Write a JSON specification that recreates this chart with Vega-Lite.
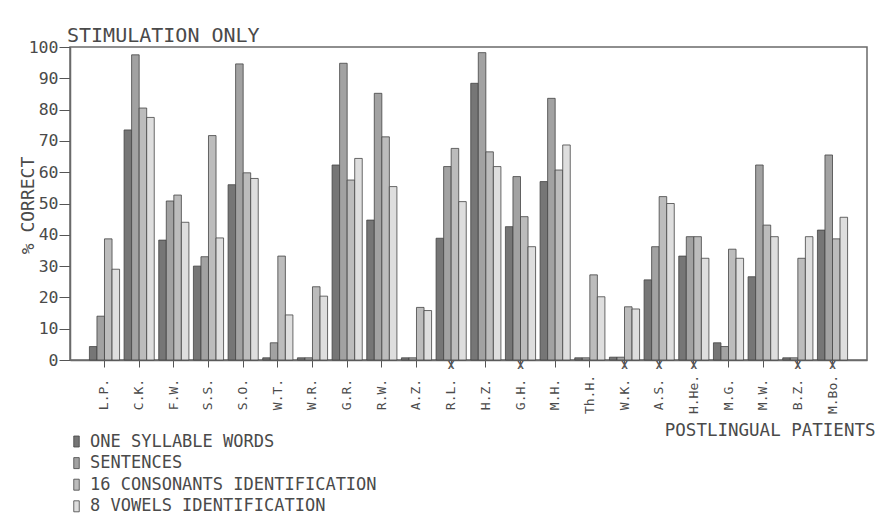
{
  "$schema": "https://vega.github.io/schema/vega-lite/v6.json",
  "width": 797,
  "height": 313,
  "autosize": {"type": "none"},
  "padding": {"left": 70, "top": 47, "right": 21, "bottom": 154},
  "background": "#ffffff",
  "title": {"text": "STIMULATION ONLY", "anchor": "start", "frame": "group", "dx": -3, "offset": -7, "font": "DejaVu Sans Mono", "fontSize": 20, "fontWeight": "normal", "color": "#4a4a4a"},
  "config": {
    "view": {"stroke": "#6a6a6a", "strokeWidth": 1.5},
    "font": "DejaVu Sans Mono"
  },
  "datasets": {
    "scores": [
      {"patient": "L.P.", "test": "ONE SYLLABLE WORDS", "value": 4.3},
      {"patient": "L.P.", "test": "SENTENCES", "value": 14},
      {"patient": "L.P.", "test": "16 CONSONANTS IDENTIFICATION", "value": 38.7},
      {"patient": "L.P.", "test": "8 VOWELS IDENTIFICATION", "value": 29},
      {"patient": "C.K.", "test": "ONE SYLLABLE WORDS", "value": 73.5},
      {"patient": "C.K.", "test": "SENTENCES", "value": 97.5},
      {"patient": "C.K.", "test": "16 CONSONANTS IDENTIFICATION", "value": 80.5},
      {"patient": "C.K.", "test": "8 VOWELS IDENTIFICATION", "value": 77.5},
      {"patient": "F.W.", "test": "ONE SYLLABLE WORDS", "value": 38.3},
      {"patient": "F.W.", "test": "SENTENCES", "value": 50.8},
      {"patient": "F.W.", "test": "16 CONSONANTS IDENTIFICATION", "value": 52.7},
      {"patient": "F.W.", "test": "8 VOWELS IDENTIFICATION", "value": 44},
      {"patient": "S.S.", "test": "ONE SYLLABLE WORDS", "value": 30},
      {"patient": "S.S.", "test": "SENTENCES", "value": 33},
      {"patient": "S.S.", "test": "16 CONSONANTS IDENTIFICATION", "value": 71.7},
      {"patient": "S.S.", "test": "8 VOWELS IDENTIFICATION", "value": 39},
      {"patient": "S.O.", "test": "ONE SYLLABLE WORDS", "value": 56},
      {"patient": "S.O.", "test": "SENTENCES", "value": 94.6},
      {"patient": "S.O.", "test": "16 CONSONANTS IDENTIFICATION", "value": 59.8},
      {"patient": "S.O.", "test": "8 VOWELS IDENTIFICATION", "value": 58},
      {"patient": "W.T.", "test": "ONE SYLLABLE WORDS", "value": 0.7},
      {"patient": "W.T.", "test": "SENTENCES", "value": 5.5},
      {"patient": "W.T.", "test": "16 CONSONANTS IDENTIFICATION", "value": 33.2},
      {"patient": "W.T.", "test": "8 VOWELS IDENTIFICATION", "value": 14.4},
      {"patient": "W.R.", "test": "ONE SYLLABLE WORDS", "value": 0.7},
      {"patient": "W.R.", "test": "SENTENCES", "value": 0.7},
      {"patient": "W.R.", "test": "16 CONSONANTS IDENTIFICATION", "value": 23.4},
      {"patient": "W.R.", "test": "8 VOWELS IDENTIFICATION", "value": 20.4},
      {"patient": "G.R.", "test": "ONE SYLLABLE WORDS", "value": 62.3},
      {"patient": "G.R.", "test": "SENTENCES", "value": 94.8},
      {"patient": "G.R.", "test": "16 CONSONANTS IDENTIFICATION", "value": 57.5},
      {"patient": "G.R.", "test": "8 VOWELS IDENTIFICATION", "value": 64.4},
      {"patient": "R.W.", "test": "ONE SYLLABLE WORDS", "value": 44.7},
      {"patient": "R.W.", "test": "SENTENCES", "value": 85.2},
      {"patient": "R.W.", "test": "16 CONSONANTS IDENTIFICATION", "value": 71.3},
      {"patient": "R.W.", "test": "8 VOWELS IDENTIFICATION", "value": 55.4},
      {"patient": "A.Z.", "test": "ONE SYLLABLE WORDS", "value": 0.7},
      {"patient": "A.Z.", "test": "SENTENCES", "value": 0.7},
      {"patient": "A.Z.", "test": "16 CONSONANTS IDENTIFICATION", "value": 16.8},
      {"patient": "A.Z.", "test": "8 VOWELS IDENTIFICATION", "value": 15.8},
      {"patient": "R.L.", "test": "ONE SYLLABLE WORDS", "value": 38.9},
      {"patient": "R.L.", "test": "SENTENCES", "value": 61.8},
      {"patient": "R.L.", "test": "16 CONSONANTS IDENTIFICATION", "value": 67.6},
      {"patient": "R.L.", "test": "8 VOWELS IDENTIFICATION", "value": 50.6},
      {"patient": "H.Z.", "test": "ONE SYLLABLE WORDS", "value": 88.4},
      {"patient": "H.Z.", "test": "SENTENCES", "value": 98.2},
      {"patient": "H.Z.", "test": "16 CONSONANTS IDENTIFICATION", "value": 66.5},
      {"patient": "H.Z.", "test": "8 VOWELS IDENTIFICATION", "value": 61.8},
      {"patient": "G.H.", "test": "ONE SYLLABLE WORDS", "value": 42.6},
      {"patient": "G.H.", "test": "SENTENCES", "value": 58.6},
      {"patient": "G.H.", "test": "16 CONSONANTS IDENTIFICATION", "value": 45.8},
      {"patient": "G.H.", "test": "8 VOWELS IDENTIFICATION", "value": 36.2},
      {"patient": "M.H.", "test": "ONE SYLLABLE WORDS", "value": 57},
      {"patient": "M.H.", "test": "SENTENCES", "value": 83.6},
      {"patient": "M.H.", "test": "16 CONSONANTS IDENTIFICATION", "value": 60.7},
      {"patient": "M.H.", "test": "8 VOWELS IDENTIFICATION", "value": 68.7},
      {"patient": "Th.H.", "test": "ONE SYLLABLE WORDS", "value": 0.7},
      {"patient": "Th.H.", "test": "SENTENCES", "value": 0.7},
      {"patient": "Th.H.", "test": "16 CONSONANTS IDENTIFICATION", "value": 27.2},
      {"patient": "Th.H.", "test": "8 VOWELS IDENTIFICATION", "value": 20.2},
      {"patient": "W.K.", "test": "ONE SYLLABLE WORDS", "value": 0.9},
      {"patient": "W.K.", "test": "SENTENCES", "value": 0.9},
      {"patient": "W.K.", "test": "16 CONSONANTS IDENTIFICATION", "value": 17},
      {"patient": "W.K.", "test": "8 VOWELS IDENTIFICATION", "value": 16.3},
      {"patient": "A.S.", "test": "ONE SYLLABLE WORDS", "value": 25.6},
      {"patient": "A.S.", "test": "SENTENCES", "value": 36.2},
      {"patient": "A.S.", "test": "16 CONSONANTS IDENTIFICATION", "value": 52.2},
      {"patient": "A.S.", "test": "8 VOWELS IDENTIFICATION", "value": 50},
      {"patient": "H.He.", "test": "ONE SYLLABLE WORDS", "value": 33.2},
      {"patient": "H.He.", "test": "SENTENCES", "value": 39.4},
      {"patient": "H.He.", "test": "16 CONSONANTS IDENTIFICATION", "value": 39.4},
      {"patient": "H.He.", "test": "8 VOWELS IDENTIFICATION", "value": 32.5},
      {"patient": "M.G.", "test": "ONE SYLLABLE WORDS", "value": 5.5},
      {"patient": "M.G.", "test": "SENTENCES", "value": 4.3},
      {"patient": "M.G.", "test": "16 CONSONANTS IDENTIFICATION", "value": 35.4},
      {"patient": "M.G.", "test": "8 VOWELS IDENTIFICATION", "value": 32.5},
      {"patient": "M.W.", "test": "ONE SYLLABLE WORDS", "value": 26.6},
      {"patient": "M.W.", "test": "SENTENCES", "value": 62.3},
      {"patient": "M.W.", "test": "16 CONSONANTS IDENTIFICATION", "value": 43.1},
      {"patient": "M.W.", "test": "8 VOWELS IDENTIFICATION", "value": 39.4},
      {"patient": "B.Z.", "test": "ONE SYLLABLE WORDS", "value": 0.7},
      {"patient": "B.Z.", "test": "SENTENCES", "value": 0.7},
      {"patient": "B.Z.", "test": "16 CONSONANTS IDENTIFICATION", "value": 32.5},
      {"patient": "B.Z.", "test": "8 VOWELS IDENTIFICATION", "value": 39.4},
      {"patient": "M.Bo.", "test": "ONE SYLLABLE WORDS", "value": 41.5},
      {"patient": "M.Bo.", "test": "SENTENCES", "value": 65.5},
      {"patient": "M.Bo.", "test": "16 CONSONANTS IDENTIFICATION", "value": 38.7},
      {"patient": "M.Bo.", "test": "8 VOWELS IDENTIFICATION", "value": 45.6}
    ],
    "marked": [
      {"patient": "R.L.", "sign": "X", "value": -1.9},
      {"patient": "G.H.", "sign": "X", "value": -1.9},
      {"patient": "W.K.", "sign": "X", "value": -1.9},
      {"patient": "A.S.", "sign": "X", "value": -1.9},
      {"patient": "H.He.", "sign": "X", "value": -1.9},
      {"patient": "B.Z.", "sign": "X", "value": -1.9},
      {"patient": "M.Bo.", "sign": "X", "value": -1.9}
    ]
  },
  "encoding": {
    "x": {
      "field": "patient", "type": "nominal", "sort": null,
      "scale": {"paddingInner": 0.13, "paddingOuter": 0.56},
      "axis": {
        "title": "POSTLINGUAL PATIENTS",
        "titleX": 805, "titleY": 75, "titleAlign": "right", "titleBaseline": "alphabetic",
        "titleFont": "DejaVu Sans Mono", "titleFontSize": 17.5, "titleFontWeight": "normal", "titleColor": "#4a4a4a",
        "labelAngle": -90, "labelAlign": "center", "labelBaseline": "middle",
        "labelPadding": 27, "labelFont": "DejaVu Sans Mono", "labelFontSize": 13, "labelColor": "#4a4a4a",
        "tickSize": 7, "tickColor": "#555555", "domainColor": "#6a6a6a", "domainWidth": 1.5
      }
    },
    "y": {
      "field": "value", "type": "quantitative",
      "scale": {"domain": [0, 100], "nice": false},
      "axis": {
        "title": "% CORRECT", "titleX": -42, "titleY": 158, "titleAngle": -90, "titleAlign": "center", "titleBaseline": "middle",
        "titleFont": "DejaVu Sans Mono", "titleFontSize": 18, "titleFontWeight": "normal", "titleColor": "#4a4a4a",
        "values": [0, 10, 20, 30, 40, 50, 60, 70, 80, 90, 100],
        "labelOverlap": false,
        "labelFont": "DejaVu Sans Mono", "labelFontSize": 16.5, "labelColor": "#4a4a4a", "labelPadding": 1,
        "tickSize": 11, "tickColor": "#555555", "domainColor": "#6a6a6a", "domainWidth": 1.5, "grid": false
      }
    }
  },
  "layer": [
    {
      "data": {"name": "scores"},
      "mark": {"type": "bar", "stroke": "#444444", "strokeWidth": 0.8},
      "encoding": {
        "xOffset": {
          "field": "test", "type": "nominal",
          "scale": {"domain": ["ONE SYLLABLE WORDS", "SENTENCES", "16 CONSONANTS IDENTIFICATION", "8 VOWELS IDENTIFICATION"], "paddingInner": 0, "paddingOuter": 0}
        },
        "fill": {
          "field": "test", "type": "nominal",
          "scale": {"domain": ["ONE SYLLABLE WORDS", "SENTENCES", "16 CONSONANTS IDENTIFICATION", "8 VOWELS IDENTIFICATION"], "range": ["#767676", "#a2a2a2", "#bcbcbc", "#dedede"]},
          "legend": {
            "title": null, "orient": "none", "legendX": -2, "legendY": 386, "direction": "vertical",
            "symbolType": "M-0.5,-1H0.5V1H-0.5Z", "symbolSize": 121, "symbolStrokeColor": "#444444", "symbolStrokeWidth": 0.8,
            "labelFont": "DejaVu Sans Mono", "labelFontSize": 17, "labelColor": "#4a4a4a", "labelOffset": 5,
            "rowPadding": 3.6, "padding": 0, "labelLimit": 500
          }
        }
      }
    },
    {
      "data": {"name": "marked"},
      "mark": {"type": "text", "font": "DejaVu Sans Mono", "fontSize": 11, "fontWeight": "bold", "color": "#555555", "baseline": "middle", "clip": false},
      "encoding": {
        "text": {"field": "sign"}
      }
    }
  ]
}
